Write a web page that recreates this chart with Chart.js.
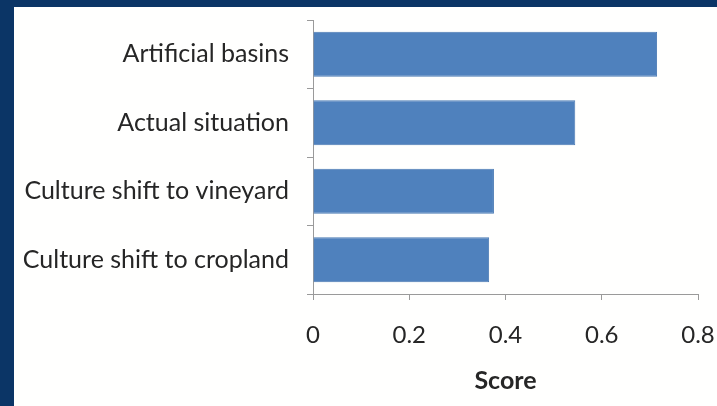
<!DOCTYPE html>
<html>
<head>
<meta charset="utf-8">
<script src="https://cdn.jsdelivr.net/npm/chart.js@4"></script>
<style>
  body { margin: 0; background: #0b3566; width: 717px; height: 406px; overflow: hidden; }
  #box { position: absolute; left: 14px; top: 7px; width: 703px; height: 399px; background: #fffffe; }
</style>
</head>
<body>
<div id="box"><canvas id="scoreChart" width="703" height="399"></canvas></div>
<script>
// chart data
const categories = ['Artificial basins', 'Actual situation', 'Culture shift to vineyard', 'Culture shift to cropland'];
const scores = [0.715, 0.545, 0.376, 0.366];
const xTicks = [0, 0.2, 0.4, 0.6, 0.8];

// drop the extra room chart.js keeps for edge labels, layout padding decides instead
function noEdgePadding(scale) {
    scale.paddingTop = 0;
    scale.paddingBottom = 0;
    scale.paddingLeft = 0;
    scale.paddingRight = 0;
}

const ctx = document.getElementById('scoreChart').getContext('2d');
new Chart(ctx, {
    type: 'bar',
    data: {
        labels: categories,
        datasets: [{
            label: 'Score',
            data: scores,
            backgroundColor: '#4f81bd',
            borderColor: '#4a7ab4',
            borderWidth: 1,
            barPercentage: 0.66,
            categoryPercentage: 1
        }]
    },
    options: {
        indexAxis: 'y',
        responsive: false,
        animation: false,
        layout: { padding: { top: 13, right: 19, bottom: 0, left: 0 } },
        plugins: { legend: { display: false }, tooltip: { enabled: false } },
        scales: {
            x: {
                min: 0,
                max: 0.8,
                afterBuildTicks: scale => { scale.ticks = xTicks.map(v => ({ value: v })); },
                ticks: {
                    color: '#262626',
                    font: { family: 'Lato', size: 24 },
                    padding: 21,
                    maxRotation: 0,
                    callback: v => String(v)
                },
                grid: { drawOnChartArea: false, drawTicks: true, tickLength: 6, color: '#9a9a9a' },
                border: { display: true, color: '#9a9a9a', width: 1 },
                title: {
                    display: true,
                    text: 'Score',
                    color: '#262626',
                    font: { family: 'Lato', size: 25, weight: 'bold' },
                    padding: { top: 8, bottom: 10 }
                },
                afterFit: scale => { scale.height = 112; noEdgePadding(scale); }
            },
            y: {
                ticks: {
                    color: '#262626',
                    font: { family: 'Lato', size: 25 },
                    padding: 18
                },
                grid: { drawOnChartArea: false, drawTicks: true, tickLength: 6, color: '#9a9a9a' },
                border: { display: true, color: '#9a9a9a', width: 1 },
                afterFit: scale => { scale.width = 299; noEdgePadding(scale); }
            }
        }
    }
});
</script>
</body>
</html>
